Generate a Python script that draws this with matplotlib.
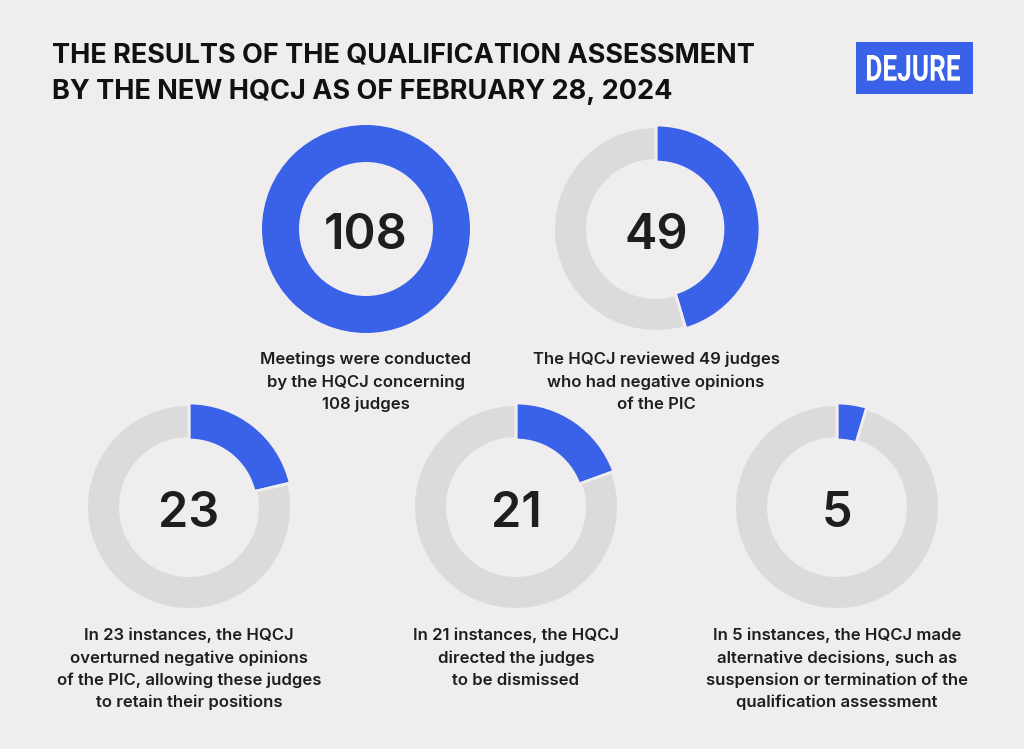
import matplotlib.pyplot as plt
from matplotlib.font_manager import FontProperties
from matplotlib.patches import PathPatch, Rectangle
from matplotlib.textpath import TextPath
from matplotlib.transforms import Affine2D

W, H = 1024, 749

# data
total = 108
counts = [108, 49, 23, 21, 5]
labels = [
    "Meetings were conducted\nby the HQCJ concerning\n108 judges",
    "The HQCJ reviewed 49 judges\nwho had negative opinions\nof the PIC",
    "In 23 instances, the HQCJ\noverturned negative opinions\nof the PIC, allowing these judges\nto retain their positions",
    "In 21 instances, the HQCJ\ndirected the judges\nto be dismissed",
    "In 5 instances, the HQCJ made\nalternative decisions, such as\nsuspension or termination of the\nqualification assessment",
]
title_lines = [
    "THE RESULTS OF THE QUALIFICATION ASSESSMENT",
    "BY THE NEW HQCJ AS OF FEBRUARY 28, 2024",
]

# layout (pixel coordinates, y from top)
centers = [(366, 229), (656, 229), (189, 507), (516, 507), (837, 507)]
BLUE = "#3A62E8"
GREY = "#DCDBDC"
BG = "#EFEDEE"
DARK = "#1E1E1E"

fig = plt.figure(figsize=(W / 100, H / 100), dpi=100, facecolor=BG)
ax = fig.add_axes([0, 0, 1, 1])
ax.set_facecolor(BG)


def fy(y):
    return H - y


for i, (n, (cx, cy)) in enumerate(zip(counts, centers)):
    rest = total - n
    # grey remainder ring
    if rest > 0:
        ax.pie([n, rest], center=(cx, fy(cy)), radius=101, startangle=90,
               counterclock=False, colors=["none", GREY],
               wedgeprops=dict(width=31, linewidth=0))
    # blue share, drawn slightly larger
    ax.pie([n, rest], center=(cx, fy(cy)), radius=104, startangle=90,
           counterclock=False, colors=[BLUE, "none"],
           wedgeprops=dict(width=37, edgecolor=BG if rest > 0 else BLUE,
                           linewidth=2 if rest > 0 else 0))
    ax.text(cx, fy(cy + 2), str(n), ha="center", va="center_baseline",
            fontsize=35, fontfamily="Inter", fontweight="semibold", color=DARK)

    lines = labels[i].split("\n")
    y0, step = (358, 22.5) if i < 2 else (634, 22.3)
    for k, line in enumerate(lines):
        ax.text(cx, fy(y0 + k * step), line, ha="center", va="center_baseline",
                fontsize=12, fontfamily="Inter", fontweight="semibold", color=DARK)

for k, line in enumerate(title_lines):
    ax.text(52, fy(53 + k * 36), line, ha="left", va="center_baseline",
            fontsize=19.5, fontfamily="Inter", fontweight="bold", color="#111111")

# logo: blue box with condensed white lettering
ax.add_patch(Rectangle((856, fy(94)), 117, 52, facecolor=BLUE, edgecolor="none"))
tp = TextPath((0, 0), "DEJURE", size=40,
              prop=FontProperties(family="Roboto", weight="bold"))
bb = tp.get_extents()
tr = (Affine2D()
      .translate(-bb.x0 - bb.width / 2, -bb.y0 - bb.height / 2)
      .scale(93 / bb.width, 26 / bb.height)
      .translate(913.5, fy(68)))
ax.add_patch(PathPatch(tr.transform_path(tp), facecolor="white", edgecolor="none"))

ax.set_xlim(0, W)
ax.set_ylim(0, H)
ax.set_aspect("auto")
ax.axis("off")

fig.savefig("out.png", dpi=100, facecolor=BG)
